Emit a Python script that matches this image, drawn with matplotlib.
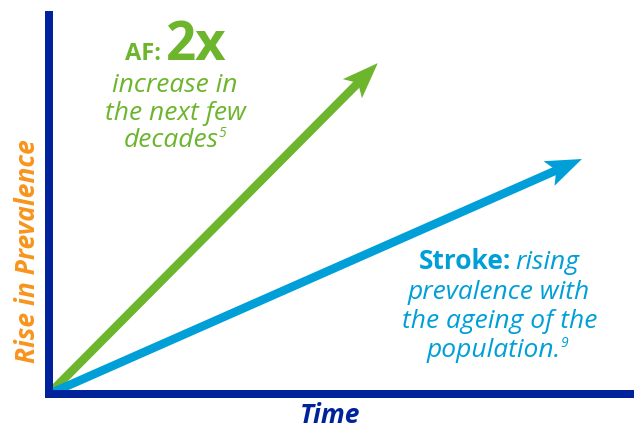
import matplotlib
matplotlib.use("Agg")
import matplotlib.pyplot as plt
from matplotlib.transforms import IdentityTransform
from matplotlib.patches import Polygon
import numpy as np

W, H, DPI = 634, 429, 100

NAVY = "#00239b"
GREEN = "#6cb52d"
BLUE = "#009fd8"
ORANGE = "#f7941d"
FONT = ["Open Sans", "DejaVu Sans"]

# Trend arrows, in axis units (0-100 on both axes)
series = ["AF", "Stroke"]
start_x = [0.0, 0.0]
start_y = [0.0, 0.0]
end_x = [56.2, 91.1]
end_y = [87.3, 62.0]
series_colors = [GREEN, BLUE]

x_label = "Time"
y_label = "Rise in Prevalence"

af_tag, af_factor = "AF:", "2x"
af_body = ["increase in", "the next few", "decades"]
af_ref = "5"
stroke_tag, stroke_lead = "Stroke:", "rising"
stroke_body = ["prevalence with", "the ageing of the", "population."]
stroke_ref = "9"

fig = plt.figure(figsize=(W / DPI, H / DPI), dpi=DPI)
fig.patch.set_facecolor("white")
renderer = fig.canvas.get_renderer()

# axes frame: thick navy left and bottom spines only
ax = fig.add_axes([49 / W, 35 / H, (W - 49) / W, 379 / H])
ax.set_xlim(0, 100)
ax.set_ylim(0, 100)
ax.set_xticks([])
ax.set_yticks([])
ax.patch.set_visible(False)
for side in ("top", "right"):
    ax.spines[side].set_visible(False)
for side in ("left", "bottom"):
    sp = ax.spines[side]
    sp.set_linewidth(8 * 72 / DPI)
    sp.set_color(NAVY)
    sp.set_capstyle("projecting")


def draw_arrow(x0, y0, x1, y1, color, shaft_px=8.5, head_len=36, head_half=13.5, notch=8):
    p0 = ax.transData.transform((x0, y0))
    p1 = ax.transData.transform((x1, y1))
    d = p1 - p0
    u = d / np.hypot(*d)
    n = np.array([-u[1], u[0]])
    back = p1 - u * head_len
    inner = p1 - u * (head_len - notch)
    head = [p1, back + n * head_half, inner, back - n * head_half]
    ax.add_patch(Polygon(head, closed=True, transform=IdentityTransform(),
                         facecolor=color, edgecolor="none", zorder=3))
    shaft_end = ax.transData.inverted().transform(inner + u * 2)
    ax.plot([x0, shaft_end[0]], [y0, shaft_end[1]], color=color,
            lw=shaft_px * 72 / DPI, solid_capstyle="butt", zorder=2)


for x0, y0, x1, y1, c in zip(start_x, start_y, end_x, end_y, series_colors):
    draw_arrow(x0, y0, x1, y1, c)


def put_line(parts, cx, base_py):
    """parts: list of (text, style dict, rise_px, gap_px); centred at cx,
    baseline at base_py measured from the top of the image."""
    items = []
    total = 0
    for s, kw, rise, gap in parts:
        t = fig.text(0, 0, s, transform=IdentityTransform(), ha="left",
                     va="baseline", **kw)
        w = t.get_window_extent(renderer).width
        items.append((t, rise, w, gap))
        total += w + gap
    x = cx - total / 2
    y = H - base_py
    for t, rise, w, gap in items:
        t.set_position((x, y + rise))
        x += w + gap


bold = lambda size, color: dict(family=FONT, fontsize=size, fontweight="bold", color=color)
ital = lambda size, color: dict(family=FONT, fontsize=size, style="italic", color=color)

BODY = 19

# AF annotation
put_line([(af_tag, bold(17, GREEN), 0, 5), (af_factor, bold(38, GREEN), 0, 0)], 176, 60)
put_line([(af_body[0], ital(BODY, GREEN), 0, 0)], 175, 92)
put_line([(af_body[1], ital(BODY, GREEN), 0, 0)], 175.5, 120)
put_line([(af_body[2], ital(BODY, GREEN), 0, 0), (af_ref, ital(10, GREEN), 10, 0)], 175, 147)

# Stroke annotation
put_line([(stroke_tag, bold(BODY, BLUE), 0, 5), (stroke_lead, ital(BODY, BLUE), 0, 0)], 499, 269)
put_line([(stroke_body[0], ital(BODY, BLUE), 0, 0)], 499, 299)
put_line([(stroke_body[1], ital(BODY, BLUE), 0, 0)], 500, 328)
put_line([(stroke_body[2], ital(BODY, BLUE), 0, 0), (stroke_ref, ital(10, BLUE), 10, 0)], 497, 357)

# axis titles
fig.text(330, H - 423, x_label, transform=IdentityTransform(), ha="center",
         va="baseline", family=FONT, fontsize=19, fontweight="bold",
         style="italic", color=NAVY)
fig.text(35, H - 251, y_label, transform=IdentityTransform(), ha="center",
         va="baseline", rotation=90, rotation_mode="anchor", family=FONT,
         fontsize=19, fontweight="bold", style="italic", color=ORANGE)

fig.savefig("out.png", dpi=DPI)
